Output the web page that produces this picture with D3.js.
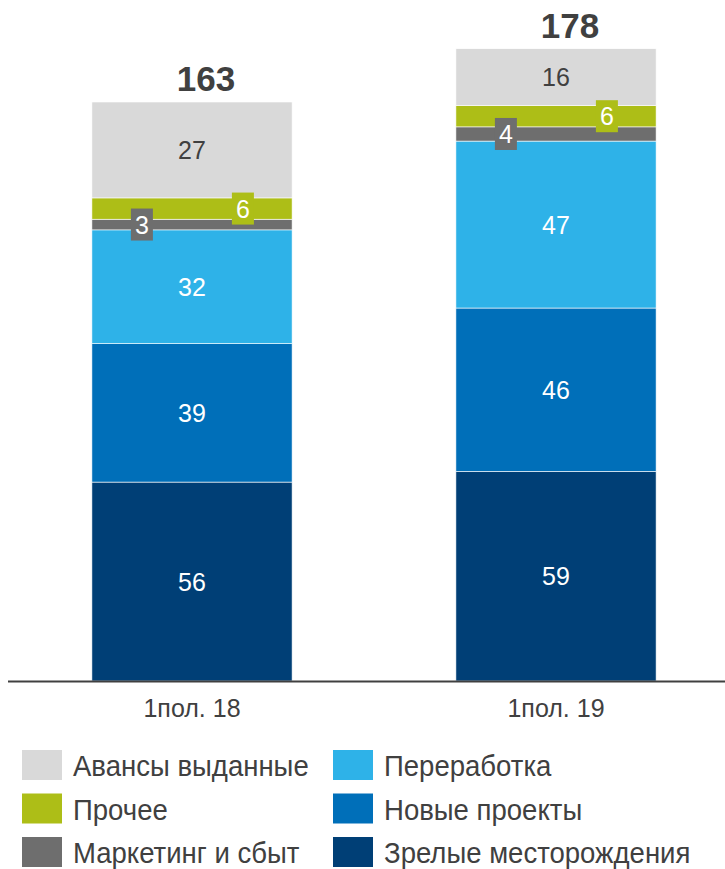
<!DOCTYPE html>
<html>
<head>
<meta charset="utf-8">
<script src="https://cdn.jsdelivr.net/npm/d3@7"></script>
<style>
  body { margin: 0; background: #fff; }
  svg text { font-family: "Liberation Sans", Arial, sans-serif; }
</style>
</head>
<body>
<div id="chart"></div>
<script>
// data
const periods = ['1пол. 18', '1пол. 19'];
const seriesNames = ['Зрелые месторождения', 'Новые проекты', 'Переработка', 'Маркетинг и сбыт', 'Прочее', 'Авансы выданные'];
const seriesColors = ['#003f76', '#006fb9', '#2eb2e8', '#6e6e6e', '#adbe17', '#d9d9d9'];
const matureFields = [56, 59];
const newProjects = [39, 46];
const refining = [32, 47];
const marketing = [3, 4];
const other = [6, 6];
const advances = [27, 16];
const totals = [163, 178];

const values = [matureFields, newProjects, refining, marketing, other, advances];

const W = 725, H = 869;
const baseY = 681;

const svg = d3.select('#chart').append('svg')
  .attr('width', W).attr('height', H);

const xScale = d3.scaleBand()
  .domain(periods)
  .range([10, 738])
  .paddingInner(0.45)
  .paddingOuter(0.225);

// 163 -> 579px
const yScale = d3.scaleLinear()
  .domain([0, 163])
  .range([baseY, 102]);

const rows = periods.map((p, i) => {
  let o = {period: p};
  seriesNames.forEach((s, k) => { o[s] = values[k][i]; });
  return o;
});
const stacked = d3.stack().keys(seriesNames)(rows);

const g = svg.append('g');
stacked.forEach((layer, k) => {
  g.selectAll(null)
    .data(layer)
    .enter()
    .append('rect')
    .attr('x', d => xScale(d.data.period))
    .attr('width', xScale.bandwidth())
    .attr('y', d => yScale(d[1]))
    .attr('height', d => yScale(d[0]) - yScale(d[1]))
    .attr('fill', seriesColors[k])
    .attr('stroke', '#fff')
    .attr('stroke-width', 0.6);
});

// big segment labels
[0, 1, 2, 5].forEach(k => {
  g.selectAll(null)
    .data(stacked[k])
    .enter()
    .append('text')
    .attr('x', d => xScale(d.data.period) + xScale.bandwidth() / 2)
    .attr('y', d => (yScale(d[0]) + yScale(d[1])) / 2 + 9)
    .attr('text-anchor', 'middle')
    .attr('font-size', 25)
    .attr('fill', k === 5 ? '#404040' : '#fff')
    .text(d => d[1] - d[0]);
});

// small segment labels with boxes
let smallLabel = (k, dx) => {
  let sel = g.selectAll(null)
    .data(stacked[k])
    .enter()
    .append('g')
    .attr('transform', d => `translate(${xScale(d.data.period) + dx},${(yScale(d[0]) + yScale(d[1])) / 2})`);
  sel.append('rect')
    .attr('x', -11).attr('y', -16)
    .attr('width', 22).attr('height', 32)
    .attr('fill', seriesColors[k]);
  sel.append('text')
    .attr('text-anchor', 'middle')
    .attr('y', 9)
    .attr('font-size', 25)
    .attr('fill', '#fff')
    .text(d => d[1] - d[0]);
};
smallLabel(3, 50);
smallLabel(4, 151);

// totals
g.selectAll(null)
  .data(periods)
  .enter()
  .append('text')
  .attr('x', (d, i) => xScale(d) + xScale.bandwidth() / 2 + 14)
  .attr('y', (d, i) => yScale(totals[i]) - 11)
  .attr('text-anchor', 'middle')
  .attr('font-size', 35)
  .attr('font-weight', 'bold')
  .attr('fill', '#404040')
  .text((d, i) => totals[i]);

// axis
const xAxis = d3.axisBottom(xScale).tickSize(0).tickPadding(0);
const ax = svg.append('g')
  .attr('transform', `translate(0,${baseY})`)
  .call(xAxis);
ax.select('.domain').attr('d', `M8,0.5H725`).attr('stroke', '#404040').attr('stroke-width', 2);
ax.selectAll('text')
  .attr('font-size', 25)
  .attr('fill', '#404040')
  .attr('dy', null)
  .attr('y', 36);

// legend
const legendOrder = ['Авансы выданные', 'Прочее', 'Маркетинг и сбыт', 'Переработка', 'Новые проекты', 'Зрелые месторождения'];
const legend = svg.append('g');
const li = legend.selectAll('g')
  .data(legendOrder)
  .enter()
  .append('g')
  .attr('transform', (d, i) => `translate(${i < 3 ? 22 : 333},${750 + (i % 3) * 43.5})`);
li.append('rect')
  .attr('width', 40).attr('height', 30)
  .attr('fill', d => seriesColors[seriesNames.indexOf(d)]);
li.append('text')
  .attr('transform', 'translate(51,26) scale(0.95,1)')
  .attr('font-size', 29)
  .attr('fill', '#404040')
  .text(d => d);
</script>
</body>
</html>
